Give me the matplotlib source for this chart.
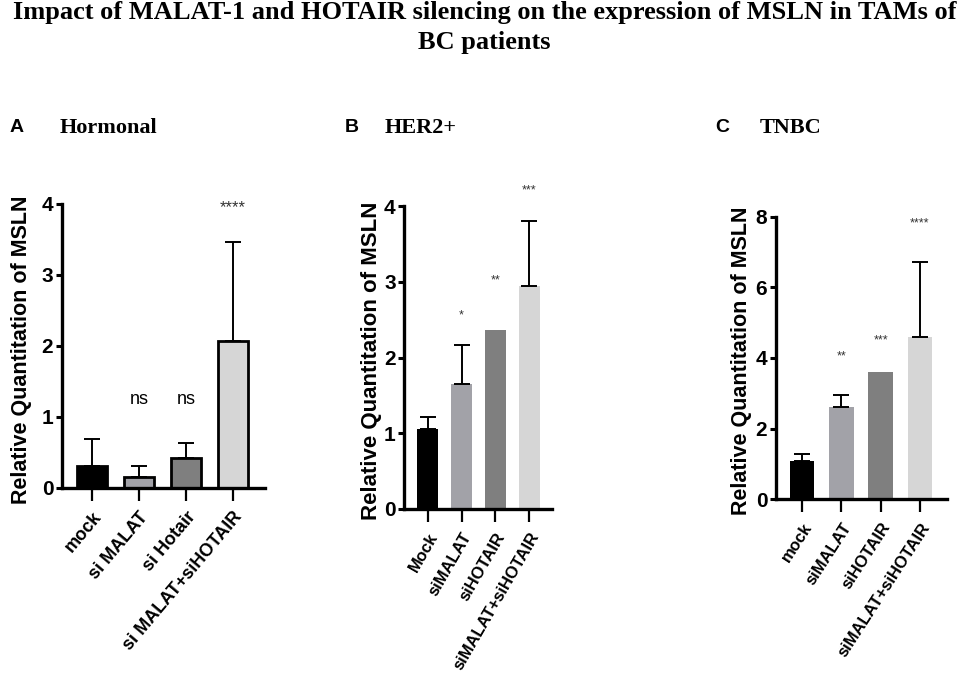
import matplotlib
matplotlib.use("Agg")
import matplotlib.pyplot as plt

# ---- data ----
labels_a = ["mock", "si MALAT", "si Hotair", "si MALAT+siHOTAIR"]
means_a = [0.31, 0.15, 0.42, 2.07]
err_a = [0.38, 0.16, 0.21, 1.39]
sig_a = ["", "ns", "ns", "****"]
sig_y_a = [None, 1.25, 1.25, 3.95]

labels_b = ["Mock", "siMALAT", "siHOTAIR", "siMALAT+siHOTAIR"]
means_b = [1.06, 1.65, 2.36, 2.94]
err_b = [0.15, 0.52, 0.0, 0.86]
sig_b = ["", "*", "**", "***"]
sig_y_b = [None, 2.55, 3.02, 4.2]

labels_c = ["mock", "siMALAT", "siHOTAIR", "siMALAT+siHOTAIR"]
means_c = [1.09, 2.60, 3.60, 4.58]
err_c = [0.19, 0.36, 0.0, 2.15]
sig_c = ["", "**", "***", "****"]
sig_y_c = [None, 4.05, 4.5, 7.8]

colors = ["#000000", "#a2a2a8", "#7f7f7f", "#d6d6d6"]

sans = ["Liberation Sans", "DejaVu Sans"]

fig = plt.figure(figsize=(9.69, 6.96), dpi=100)

fig.text(0.5, 1 - 13 / 696, "Impact of MALAT-1 and HOTAIR silencing on the expression of MSLN in TAMs of",
         ha="center", va="center", fontsize=19, fontweight="bold", family="Liberation Serif")
fig.text(0.5, 1 - 43 / 696, "BC patients",
         ha="center", va="center", fontsize=19, fontweight="bold", family="Liberation Serif")

panels = [
    dict(rect=[61.7 / 969, 0.2993, (265 - 61.7) / 969, 0.7069 - 0.2993], labels=labels_a, means=means_a,
         err=err_a, sig=sig_a, sig_y=sig_y_a, ylim=4, yticks=[0, 1, 2, 3, 4], xlim=(-0.645, 3.68),
         edge=True, letter="A", lx=17, name="Hormonal", nx=60, ylx=22, yly=350, sigsize=12,
         rot=50, xfs=13, ylfs=15.5),
    dict(rect=[404 / 969, 0.2687, (551.7 - 404) / 969, 0.704 - 0.2687], labels=labels_b, means=means_b,
         err=err_b, sig=sig_b, sig_y=sig_y_b, ylim=4, yticks=[0, 1, 2, 3, 4], xlim=(-0.70, 3.66),
         edge=False, letter="B", lx=352, name="HER2+", nx=385, ylx=372, yly=361, sigsize=9,
         rot=60, xfs=12, ylfs=16),
    dict(rect=[775.7 / 969, 0.2826, (946.7 - 775.7) / 969, 0.6887 - 0.2826], labels=labels_c, means=means_c,
         err=err_c, sig=sig_c, sig_y=sig_y_c, ylim=8, yticks=[0, 2, 4, 6, 8], xlim=(-0.67, 3.68),
         edge=False, letter="C", lx=722, name="TNBC", nx=760, ylx=742, yly=361, sigsize=9,
         rot=57, xfs=12, ylfs=15.5),
]

for p in panels:
    ax = fig.add_axes(p["rect"])
    x = list(range(len(p["means"])))
    ax.bar(x, p["means"], width=0.62, color=colors,
           edgecolor="black" if p["edge"] else "none", linewidth=2.0 if p["edge"] else 0, zorder=2)
    for xi, m, e in zip(x, p["means"], p["err"]):
        if e > 0:
            ax.errorbar(xi, m, yerr=[[0], [e]], fmt="none", ecolor="black", elinewidth=1.4,
                        capsize=6, capthick=1.4, zorder=3)
    for xi, s, sy in zip(x, p["sig"], p["sig_y"]):
        if s:
            ax.text(xi, sy, s, ha="center", va="center", fontsize=p["sigsize"] if s != "ns" else 13,
                    color="#333333" if s != "ns" else "black", family=sans, clip_on=False)
    ax.set_xlim(*p["xlim"])
    ax.set_ylim(0, p["ylim"])
    ax.set_yticks(p["yticks"])
    ax.set_yticklabels([str(t) for t in p["yticks"]], fontsize=15, fontweight="bold", family=sans)
    ax.set_xticks(x)
    ax.set_xticklabels(p["labels"], rotation=p["rot"], ha="right", rotation_mode="anchor",
                       fontsize=p["xfs"], fontweight="bold", family=sans)
    for sp in ["top", "right"]:
        ax.spines[sp].set_visible(False)
    for sp in ["left", "bottom"]:
        ax.spines[sp].set_linewidth(2.4)
    ax.tick_params(axis="y", length=4, width=2.2, pad=2)
    ax.tick_params(axis="x", length=9, width=1.6, pad=6)
    fig.text(p["ylx"] / 969, 1 - p["yly"] / 696, "Relative Quantitation of MSLN", rotation=90,
             ha="center", va="center", fontsize=p["ylfs"], fontweight="bold", family=sans)
    fig.text(p["lx"] / 969, 1 - 128 / 696, p["letter"], ha="center", va="center", fontsize=14,
             fontweight="bold", family=sans)
    fig.text(p["nx"] / 969, 1 - 128 / 696, p["name"], ha="left", va="center", fontsize=16,
             fontweight="bold", family="Liberation Serif")

fig.savefig("out.png", dpi=100)
